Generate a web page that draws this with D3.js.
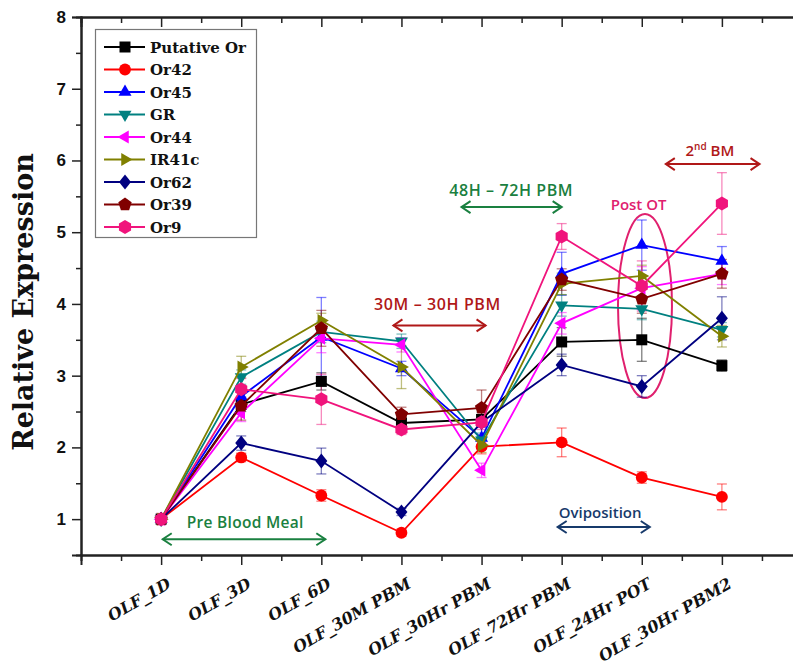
<!DOCTYPE html>
<html>
<head>
<meta charset="utf-8">
<script src="https://cdn.jsdelivr.net/npm/d3@7"></script>
<style>
  body { margin: 0; background: #fff; }
  svg { display: block; }
</style>
</head>
<body>
<div id="chart"></div>
<script>
// time points
const categories = ["OLF_1D", "OLF_3D", "OLF_6D", "OLF_30M PBM", "OLF_30Hr PBM", "OLF_72Hr PBM", "OLF_24Hr POT", "OLF_30Hr PBM2"];

// relative expression per gene
const putativeOr = [1.0, 2.60, 2.92, 2.34, 2.39, 3.47, 3.50, 3.14];
const or42       = [1.0, 1.86, 1.33, 0.81, 2.01, 2.07, 1.58, 1.31];
const or45       = [1.0, 2.71, 3.54, 3.10, 2.13, 4.42, 4.82, 4.60];
const gr         = [1.0, 2.98, 3.61, 3.48, 2.10, 3.98, 3.93, 3.64];
const or44       = [1.0, 2.48, 3.52, 3.43, 1.68, 3.73, 4.22, 4.42];
const ir41c      = [1.0, 3.12, 3.77, 3.12, 2.03, 4.28, 4.39, 3.55];
const or62       = [1.0, 2.06, 1.81, 1.10, 2.35, 3.15, 2.85, 3.80];
const or39       = [1.0, 2.58, 3.66, 2.46, 2.55, 4.34, 4.07, 4.42];
const or9        = [1.0, 2.81, 2.67, 2.25, 2.35, 4.94, 4.25, 5.40];

// error bars (+/-)
const putativeOrErr = [0.05, 0.10, 0.12, 0.08, 0.10, 0.20, 0.30, 0.08];
const or42Err       = [0.05, 0.06, 0.08, 0.05, 0.10, 0.20, 0.08, 0.18];
const or45Err       = [0.05, 0.10, 0.55, 0.10, 0.15, 0.30, 0.35, 0.20];
const grErr         = [0.05, 0.10, 0.15, 0.10, 0.10, 0.15, 0.15, 0.10];
const or44Err       = [0.05, 0.12, 0.20, 0.10, 0.10, 0.15, 0.30, 0.15];
const ir41cErr      = [0.05, 0.15, 0.10, 0.30, 0.10, 0.15, 0.15, 0.15];
const or62Err       = [0.05, 0.10, 0.18, 0.05, 0.20, 0.15, 0.15, 0.30];
const or39Err       = [0.05, 0.20, 0.25, 0.10, 0.25, 0.15, 0.20, 0.20];
const or9Err        = [0.08, 0.15, 0.35, 0.07, 0.10, 0.18, 0.35, 0.43];

const seriesNames = ["Putative Or", "Or42", "Or45", "GR", "Or44", "IR41c", "Or62", "Or39", "Or9"];
const seriesValues = [putativeOr, or42, or45, gr, or44, ir41c, or62, or39, or9];
const seriesErrors = [putativeOrErr, or42Err, or45Err, grErr, or44Err, ir41cErr, or62Err, or39Err, or9Err];

const yTicks = [1, 2, 3, 4, 5, 6, 7, 8];

// styles
const colors = ["#000000", "#ff0000", "#0000ff", "#008080", "#ff00ff", "#808000", "#000080", "#800000", "#f0147c"];
const shapes = ["square", "circle", "up", "down", "left", "right", "diamond", "pentagon", "hexagon"];

const W = 793, H = 667;
const plotLeft = 81, plotRight = 802, plotTop = 17, plotBottom = 555;

const x = d3.scaleLinear().domain([-1, 8]).range([plotLeft, plotRight]);
const y = d3.scaleLinear().domain([0.5, 8]).range([plotBottom, plotTop]);

const svg = d3.select("#chart").append("svg")
    .attr("width", W)
    .attr("height", H)
    .style("font-family", "'DejaVu Serif', serif");

// marker paths
function polygon(n, r, rot) {
    const pts = [];
    for (let i = 0; i < n; i++) {
        const a = (rot + i * 360 / n - 90) * Math.PI / 180;
        pts.push([r * Math.cos(a), r * Math.sin(a)]);
    }
    return "M" + pts.map(p => p.join(",")).join("L") + "Z";
}
function markerPath(shape) {
    switch (shape) {
        case "square": return "M-5.5,-5.5H5.5V5.5H-5.5Z";
        case "circle": return d3.symbol(d3.symbolCircle, 110)();
        case "up": return polygon(3, 7.5, 0);
        case "down": return polygon(3, 7.5, 180);
        case "left": return polygon(3, 7.5, 270);
        case "right": return polygon(3, 7.5, 90);
        case "diamond": return "M0,-7.5L6,0L0,7.5L-6,0Z";
        case "pentagon": return polygon(5, 7, 0);
        case "hexagon": return polygon(6, 7, 0);
    }
}

// axes
const minorY = d3.range(1.5, 8, 1);
const majorX = d3.range(0, 8);
const minorX = d3.range(-0.5, 8, 1);

function styleAxis(g) {
    g.select(".domain").attr("stroke", "#222").attr("stroke-width", 2);
    g.selectAll(".tick line").attr("stroke", "#222").attr("stroke-width", 1.5);
}

svg.append("g")
    .attr("transform", `translate(${plotLeft},0)`)
    .call(d3.axisLeft(y).tickValues(yTicks).tickSize(9).tickPadding(6).tickFormat(d3.format("d")))
    .call(styleAxis)
    .call(g => g.selectAll("text")
        .style("font-family", "'Liberation Sans', Arial, sans-serif")
        .style("font-weight", "bold")
        .style("font-size", "17px")
        .attr("fill", "#111"));

svg.append("g")
    .attr("transform", `translate(${plotLeft},0)`)
    .call(d3.axisLeft(y).tickValues(minorY).tickSize(5).tickFormat(""))
    .call(styleAxis);

svg.append("g")
    .attr("transform", `translate(${plotRight},0)`)
    .call(d3.axisLeft(y).tickValues(yTicks).tickSize(9).tickFormat(""))
    .call(styleAxis);

svg.append("g")
    .attr("transform", `translate(0,${plotBottom})`)
    .call(d3.axisBottom(x).tickValues(majorX).tickSize(10).tickFormat(""))
    .call(styleAxis);

svg.append("g")
    .attr("transform", `translate(0,${plotBottom})`)
    .call(d3.axisBottom(x).tickValues(minorX).tickSize(6).tickFormat(""))
    .call(styleAxis);

svg.append("g")
    .attr("transform", `translate(0,${plotTop})`)
    .call(d3.axisBottom(x).tickValues(majorX).tickSize(10).tickFormat(""))
    .call(styleAxis);

svg.append("g")
    .attr("transform", `translate(0,${plotTop})`)
    .call(d3.axisBottom(x).tickValues(minorX).tickSize(6).tickFormat(""))
    .call(styleAxis);

// x labels
svg.append("g").selectAll("text")
    .data(categories)
    .join("text")
    .attr("transform", (d, i) => `translate(${x(i) + 11},${plotBottom + 32}) rotate(-30)`)
    .attr("text-anchor", "end")
    .style("font-weight", "bold")
    .style("font-style", "italic")
    .style("font-size", "16px")
    .attr("fill", "#111")
    .text(d => d);

// y title
svg.append("text")
    .attr("transform", `translate(33,302) rotate(-90)`)
    .attr("text-anchor", "middle")
    .style("font-weight", "bold")
    .style("font-size", "27px")
    .attr("fill", "#111")
    .text("Relative Expression");

// annotations
const annot = svg.append("g").style("font-family", "'Open Sans', 'DejaVu Sans', sans-serif");

function arrow(x1, x2, yy, color) {
    const g = annot.append("g").attr("stroke", color).attr("stroke-width", 2).attr("fill", "none");
    g.append("line").attr("x1", x1).attr("x2", x2).attr("y1", yy).attr("y2", yy);
    g.append("path").attr("d", `M${x1 + 9},${yy - 6}L${x1},${yy}L${x1 + 9},${yy + 6}`);
    g.append("path").attr("d", `M${x2 - 9},${yy - 6}L${x2},${yy}L${x2 - 9},${yy + 6}`);
}
function label(txt, cx, yy, color, size = 15, spacing = 0) {
    return annot.append("text")
        .attr("x", cx).attr("y", yy)
        .attr("text-anchor", "middle")
        .attr("fill", color)
        .style("font-size", size + "px")
        .style("font-weight", 600)
        .style("letter-spacing", spacing + "px")
        .text(txt);
}

const green = "#1a8040", darkRed = "#b01818", pink = "#e0206e", navy = "#173a6b";

arrow(x(0.02), x(2.05), y(0.72), green);
label("Pre Blood Meal", x(1.05), y(0.88), green, 15.5, 0.3);

arrow(x(2.9), x(4.05), y(3.7), darkRed);
label("30M \u2013 30H PBM", x(3.45), y(3.92), darkRed, 16, 0.6);

arrow(x(3.75), x(5.0), y(5.35), green);
label("48H \u2013 72H PBM", x(4.37), y(5.5), green, 16, 0.6);

arrow(x(4.95), x(6.1), y(0.89), navy);
label("Oviposition", x(5.48), y(1.02), navy);

arrow(x(6.3), x(7.47), y(5.95), darkRed);
const bm = label("", x(6.85), y(6.06), darkRed);
bm.append("tspan").text("2");
bm.append("tspan").attr("dy", -6).style("font-size", "10px").text("nd");
bm.append("tspan").attr("dy", 6).text(" BM");

label("Post OT", x(5.96), y(5.31), pink);
annot.append("ellipse")
    .attr("cx", x(6.04)).attr("cy", y(3.97))
    .attr("rx", 27).attr("ry", 92)
    .attr("fill", "none")
    .attr("stroke", pink)
    .attr("stroke-width", 2);

// error bars
const errG = svg.append("g");
seriesValues.forEach((vals, s) => {
    const g = errG.append("g")
        .attr("stroke", colors[s])
        .attr("stroke-opacity", 0.5)
        .attr("stroke-width", 1.3);
    vals.forEach((v, i) => {
        const e = seriesErrors[s][i];
        const cx = x(i);
        g.append("line").attr("x1", cx).attr("x2", cx).attr("y1", y(v - e)).attr("y2", y(v + e));
        g.append("line").attr("x1", cx - 5).attr("x2", cx + 5).attr("y1", y(v - e)).attr("y2", y(v - e));
        g.append("line").attr("x1", cx - 5).attr("x2", cx + 5).attr("y1", y(v + e)).attr("y2", y(v + e));
    });
});

// lines + markers
const line = d3.line().x((d, i) => x(i)).y(d => y(d));

seriesValues.forEach((vals, s) => {
    svg.append("path")
        .datum(vals)
        .attr("fill", "none")
        .attr("stroke", colors[s])
        .attr("stroke-width", 1.8)
        .attr("d", line);
    svg.append("g").selectAll("path")
        .data(vals)
        .join("path")
        .attr("transform", (d, i) => `translate(${x(i)},${y(d)})`)
        .attr("d", markerPath(shapes[s]))
        .attr("fill", colors[s]);
});

// legend
const legend = svg.append("g");
legend.append("rect")
    .attr("x", 95.5).attr("y", 29.5)
    .attr("width", 161).attr("height", 208)
    .attr("fill", "#fff")
    .attr("stroke", "#777")
    .attr("stroke-width", 1.2);

seriesNames.forEach((name, s) => {
    const ry = 47 + s * 22.5;
    legend.append("line")
        .attr("x1", 104).attr("x2", 145)
        .attr("y1", ry).attr("y2", ry)
        .attr("stroke", colors[s])
        .attr("stroke-width", 1.8);
    legend.append("path")
        .attr("transform", `translate(125,${ry})`)
        .attr("d", markerPath(shapes[s]))
        .attr("fill", colors[s]);
    legend.append("text")
        .attr("x", 150).attr("y", ry + 5.5)
        .style("font-weight", "bold")
        .style("font-size", "15px")
        .attr("fill", "#111")
        .text(name);
});
</script>
</body>
</html>
